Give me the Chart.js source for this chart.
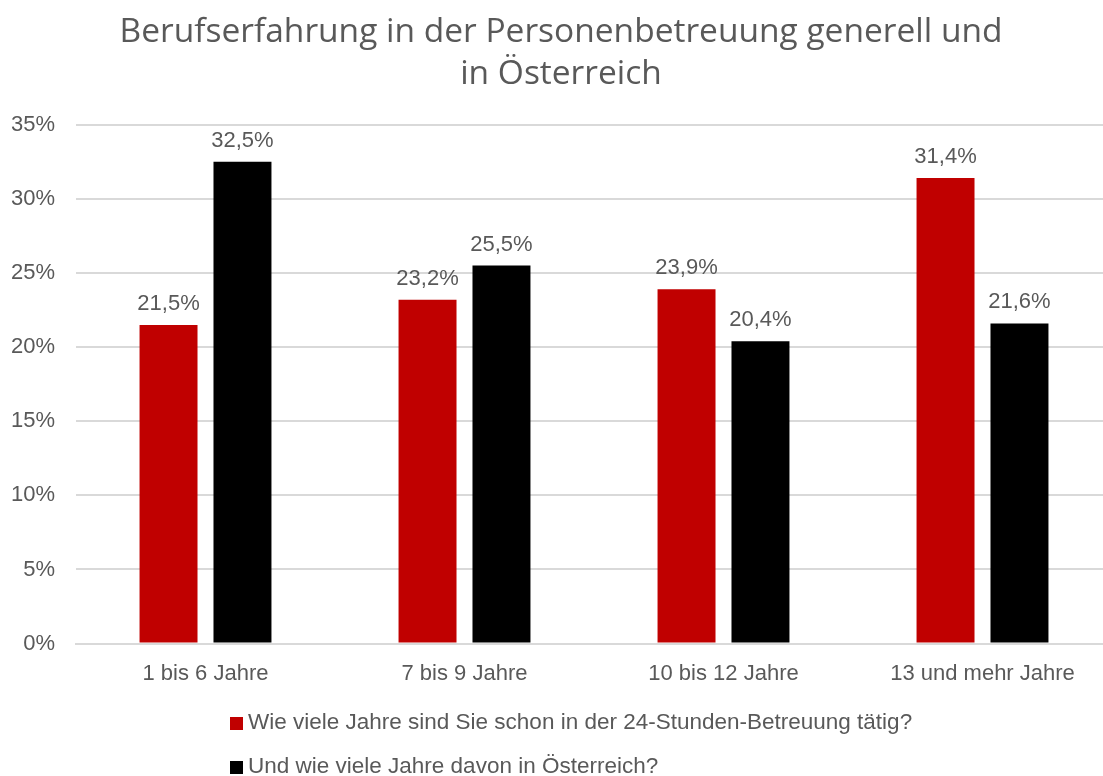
<!DOCTYPE html>
<html>
<head>
<meta charset="utf-8">
<script src="https://cdn.jsdelivr.net/npm/chart.js@4.4.0/dist/chart.umd.min.js"></script>
<style>
    html, body { margin: 0; padding: 0; background: #fff; overflow: hidden; }
    /* the original plot runs a little past the right edge of the picture */
    #wrap { width: 1103px; height: 776px; overflow: hidden; }
    #chart { display: block; }
</style>
</head>
<body>
<div id="wrap"><canvas id="chart" width="1112" height="776"></canvas></div>
<script>
// Data
const categories = ['1 bis 6 Jahre', '7 bis 9 Jahre', '10 bis 12 Jahre', '13 und mehr Jahre'];
const seriesNames = [
    'Wie viele Jahre sind Sie schon in der 24-Stunden-Betreuung tätig?',
    'Und wie viele Jahre davon in Österreich?'
];
const totalYears = [21.5, 23.2, 23.9, 31.4];
const austriaYears = [32.5, 25.5, 20.4, 21.6];
const yTicks = [0, 5, 10, 15, 20, 25, 30, 35];

const textColor = '#595959';
const fontFamily = '"Liberation Sans", Arial, sans-serif';

// Value labels above bars
const valueLabels = {
    id: 'valueLabels',
    afterDatasetsDraw(chart) {
        const ctx = chart.ctx;
        ctx.save();
        ctx.font = '22px ' + fontFamily;
        ctx.fillStyle = textColor;
        ctx.textAlign = 'center';
        ctx.textBaseline = 'bottom';
        chart.data.datasets.forEach((ds, i) => {
            chart.getDatasetMeta(i).data.forEach((bar, j) => {
                const txt = ds.data[j].toFixed(1).replace('.', ',') + '%';
                ctx.fillText(txt, bar.x, bar.y - 10);
            });
        });
        ctx.restore();
    }
};

// Legend stacked vertically, left aligned
const stackedLegend = {
    id: 'stackedLegend',
    afterDraw(chart) {
        const ctx = chart.ctx;
        ctx.save();
        ctx.font = '22.5px ' + fontFamily;
        ctx.textBaseline = 'middle';
        ctx.textAlign = 'left';
        chart.data.datasets.forEach((ds, i) => {
            const y = 723 + i * 44;
            ctx.fillStyle = ds.backgroundColor;
            ctx.fillRect(230, y - 6, 13, 13);
            ctx.fillStyle = textColor;
            ctx.fillText(ds.label, 248, y);
        });
        ctx.restore();
    }
};

new Chart(document.getElementById('chart').getContext('2d'), {
    type: 'bar',
    data: {
        labels: categories,
        datasets: [
            { label: seriesNames[0], data: totalYears, backgroundColor: '#C00000' },
            { label: seriesNames[1], data: austriaYears, backgroundColor: '#000000' }
        ]
    },
    options: {
        responsive: false,
        animation: false,
        layout: { padding: { left: 10, right: 0, top: 0, bottom: 80 } },
        datasets: {
            bar: { categoryPercentage: 0.571, barPercentage: 0.784 }
        },
        scales: {
            x: {
                grid: { display: false },
                border: { color: '#D9D9D9', width: 2 },
                ticks: {
                    color: textColor,
                    font: { family: fontFamily, size: 22 },
                    padding: 9
                }
            },
            y: {
                min: 0,
                max: 35,
                afterBuildTicks(axis) {
                    axis.ticks = yTicks.map(v => ({ value: v }));
                },
                afterFit(axis) {
                    axis.width = 66;
                },
                grid: { color: '#D9D9D9', lineWidth: 2, drawTicks: false },
                border: { display: false },
                ticks: {
                    color: textColor,
                    font: { family: fontFamily, size: 22 },
                    padding: 21,
                    callback: v => v + '%'
                }
            }
        },
        plugins: {
            legend: { display: false },
            tooltip: { enabled: false },
            title: {
                display: true,
                text: ['Berufserfahrung in der Personenbetreuung generell und', 'in Österreich'],
                color: textColor,
                font: { family: '"Open Sans", sans-serif', size: 33.5, weight: 'normal', lineHeight: 1.25 },
                padding: { top: 12, bottom: 29 }
            }
        }
    },
    plugins: [valueLabels, stackedLegend]
});
</script>
</body>
</html>
